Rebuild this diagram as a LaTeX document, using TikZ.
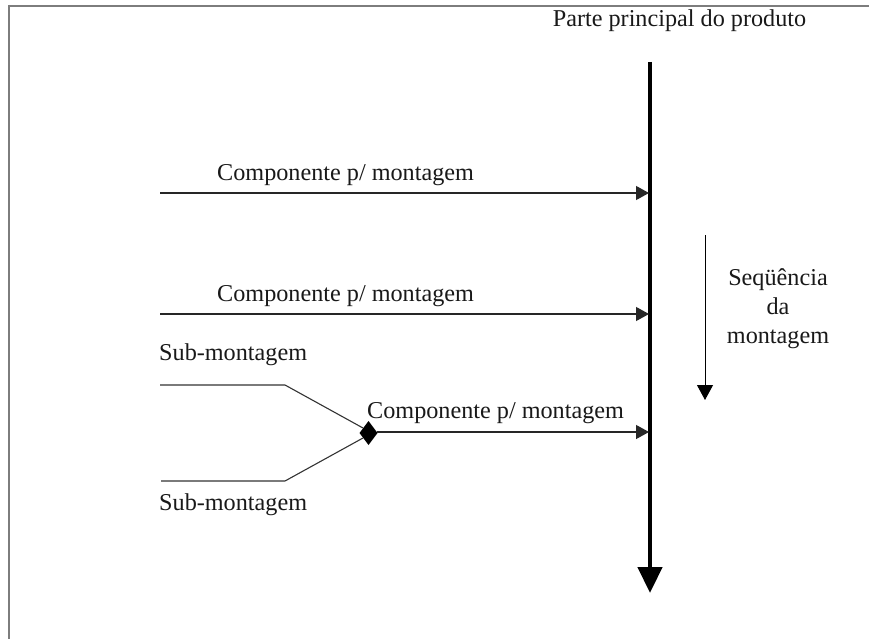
\documentclass[tikz,border=0pt]{standalone}
\usepackage{fontspec}
\setmainfont{Liberation Serif}
\usetikzlibrary{arrows.meta}
\begin{document}
\begin{tikzpicture}[x=1pt,y=-1pt,
  lbl/.style={inner sep=0pt, font=\fontsize{24.2}{29}\selectfont, text=black!90},
  frameline/.style={line width=2pt, draw={rgb,255:red,125;green,125;blue,125}},
  feed/.style={line width=1.2pt, draw=black!85, -{Triangle[length=13pt,width=14pt]}},
  subline/.style={line width=1.1pt, draw=black!80},
  mainline/.style={line width=4.5pt, -{Triangle[length=26pt,width=24pt]}},
  seqline/.style={line width=1pt, -{Triangle[length=15pt,width=16pt]}}]
\useasboundingbox (0,0) rectangle (869,639);
\fill[white] (0,0) rectangle (869,639);

% partial frame (top and left edges)
\draw[frameline] (8,6) -- (869,6);
\draw[frameline] (9,5) -- (9,639);

% main part of the product
\node[lbl] (title) at (679.5,21) {Parte principal do produto};
\coordinate (top) at (650,62);
\coordinate (bot) at (650,593);
\draw[mainline] (top) -- (bot);

% joining points on the main part
\coordinate (j1) at (649,193);
\coordinate (j2) at (649,314);
\coordinate (j3) at (649,432);

% components fed into the main part
\coordinate (c1) at (160,193);
\coordinate (c2) at (160,314);
\draw[feed] (c1) -- (j1);
\draw[feed] (c2) -- (j2);
\node[lbl, anchor=west] (l1) at (217,175) {Componente p/ montagem};
\node[lbl, anchor=west] (l2) at (217,296) {Componente p/ montagem};

% sub-assemblies merging into a component
\coordinate (d) at (368.5,433);
\fill[black] (d) ++(-9,0) -- ++(9,-12) -- ++(9,12) -- ++(-9,12) -- cycle;
\coordinate (dr) at (377,432);
\coordinate (sa1) at (160,385);
\coordinate (sb1) at (285,385);
\coordinate (sa2) at (161,481);
\coordinate (sb2) at (285,481);
\coordinate (da) at (363,428);
\coordinate (db) at (363,438);
\draw[subline] (sa1) -- (sb1) -- (da);
\draw[subline] (sa2) -- (sb2) -- (db);
\draw[feed] (dr) -- (j3);
\node[lbl, anchor=west] (l3) at (367,413) {Componente p/ montagem};
\node[lbl, anchor=west] (s1) at (159,355) {Sub-montagem};
\node[lbl, anchor=west] (s2) at (159,505) {Sub-montagem};

% assembly sequence
\coordinate (q1) at (705,235);
\coordinate (q2) at (705,400);
\draw[seqline] (q1) -- (q2);
\node[lbl, align=center] (seq) at (778,309) {Seqüência\\da\\montagem};
\end{tikzpicture}
\end{document}
